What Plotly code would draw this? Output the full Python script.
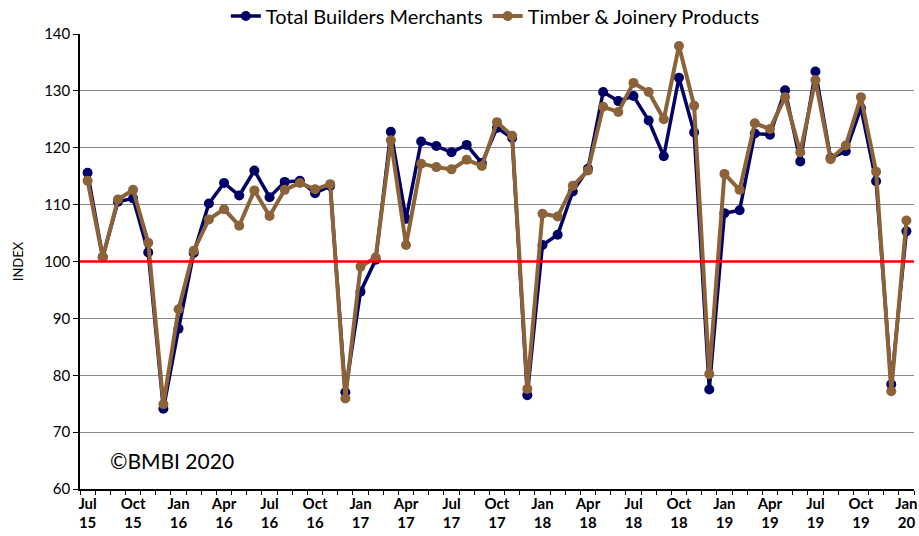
import plotly.graph_objects as go

months = ["Jul 15","Aug 15","Sep 15","Oct 15","Nov 15","Dec 15",
          "Jan 16","Feb 16","Mar 16","Apr 16","May 16","Jun 16","Jul 16","Aug 16","Sep 16","Oct 16","Nov 16","Dec 16",
          "Jan 17","Feb 17","Mar 17","Apr 17","May 17","Jun 17","Jul 17","Aug 17","Sep 17","Oct 17","Nov 17","Dec 17",
          "Jan 18","Feb 18","Mar 18","Apr 18","May 18","Jun 18","Jul 18","Aug 18","Sep 18","Oct 18","Nov 18","Dec 18",
          "Jan 19","Feb 19","Mar 19","Apr 19","May 19","Jun 19","Jul 19","Aug 19","Sep 19","Oct 19","Nov 19","Dec 19",
          "Jan 20"]

total_builders = [115.6, 100.8, 110.5, 111.1, 101.6, 74.1,
                  88.2, 101.5, 110.2, 113.8, 111.6, 116.0, 111.3, 114.0, 114.2, 112.0, 113.3, 77.0,
                  94.7, 100.3, 122.8, 107.5, 121.1, 120.3, 119.2, 120.5, 117.3, 123.5, 121.7, 76.5,
                  102.9, 104.7, 112.3, 116.3, 129.8, 128.2, 129.1, 124.8, 118.5, 132.3, 122.7, 77.5,
                  108.5, 109.0, 122.5, 122.3, 130.1, 117.6, 133.4, 118.2, 119.4, 127.0, 114.1, 78.4,
                  105.3]

timber_joinery = [114.2, 100.7, 110.9, 112.6, 103.3, 74.9,
                  91.6, 101.9, 107.4, 109.2, 106.3, 112.5, 108.0, 112.6, 113.8, 112.7, 113.6, 75.9,
                  99.1, 100.7, 121.3, 102.9, 117.2, 116.6, 116.2, 117.9, 116.8, 124.5, 122.1, 77.6,
                  108.4, 107.9, 113.3, 116.0, 127.2, 126.3, 131.4, 129.8, 125.0, 137.9, 127.4, 80.2,
                  115.4, 112.6, 124.3, 123.3, 128.9, 119.2, 131.9, 118.0, 120.4, 128.9, 115.8, 77.2,
                  107.2]

tick_labels = ["Jul<br>15","Oct<br>15","Jan<br>16","Apr<br>16","Jul<br>16","Oct<br>16","Jan<br>17",
               "Apr<br>17","Jul<br>17","Oct<br>17","Jan<br>18","Apr<br>18","Jul<br>18","Oct<br>18",
               "Jan<br>19","Apr<br>19","Jul<br>19","Oct<br>19","Jan<br>20"]

x = list(range(len(months)))
FONT = "Lato, 'Noto Sans', sans-serif"
NARROW = "'Liberation Sans Narrow', Lato, sans-serif"

fig = go.Figure()
fig.add_trace(go.Scatter(
    x=x, y=total_builders, name="Total Builders Merchants", mode="lines+markers",
    line=dict(color="#000066", width=3.5), marker=dict(color="#000066", size=10),
    text=months, hovertemplate="%{text}: %{y}<extra></extra>"))
fig.add_trace(go.Scatter(
    x=x, y=timber_joinery, name="Timber & Joinery Products", mode="lines+markers",
    line=dict(color="#8c6239", width=4), marker=dict(color="#8c6239", size=10),
    text=months, hovertemplate="%{text}: %{y}<extra></extra>"))

fig.add_shape(type="line", xref="paper", yref="y", x0=0, x1=1, y0=100, y1=100,
              line=dict(color="#ff0000", width=2.5), layer="above")

fig.add_annotation(text="©BMBI 2020", xref="paper", yref="y", x=0.034, y=65,
                   xanchor="left", yanchor="middle", showarrow=False,
                   font=dict(family=FONT, size=21, color="#000000"))

fig.update_layout(
    width=919, height=536,
    margin=dict(l=80, r=5, t=34, b=47, autoexpand=False),
    paper_bgcolor="white", plot_bgcolor="white",
    font=dict(family=FONT, color="#000000"),
    showlegend=True,
    legend=dict(orientation="h", xref="container", yref="container",
                x=0.539, xanchor="center", y=0.97, yanchor="middle",
                font=dict(family=FONT, size=20), tracegroupgap=0,
                bgcolor="rgba(0,0,0,0)"),
    xaxis=dict(
        range=[-0.5, len(months) - 0.5], automargin=False,
        tickmode="array", tickvals=x[::3], ticktext=tick_labels,
        ticks="", showgrid=False, zeroline=False,
        showline=True, linecolor="#000000", linewidth=1.5,
        tickfont=dict(family=NARROW, size=15, color="#000000", weight="bold"),
        minor=dict(ticks="outside", tickmode="linear", tick0=-0.5, dtick=1,
                   ticklen=4, tickcolor="#000000", showgrid=False),
    ),
    yaxis=dict(
        range=[60, 140], tickmode="linear", tick0=60, dtick=10, automargin=False,
        ticks="outside", ticklen=5, tickcolor="#000000",
        showgrid=True, gridcolor="#8a8a8a", gridwidth=1.2, zeroline=False,
        showline=True, linecolor="#000000", linewidth=1.5,
        tickfont=dict(family=FONT, size=15, color="#000000"),
        title=dict(text="INDEX", font=dict(family=FONT, size=13, color="#000000"), standoff=18),
    ),
)

fig.write_html("out.html", config={"displayModeBar": False},
               post_script="document.body.style.margin='0';document.body.style.padding='0';"
                           "document.documentElement.style.overflow='hidden';")
